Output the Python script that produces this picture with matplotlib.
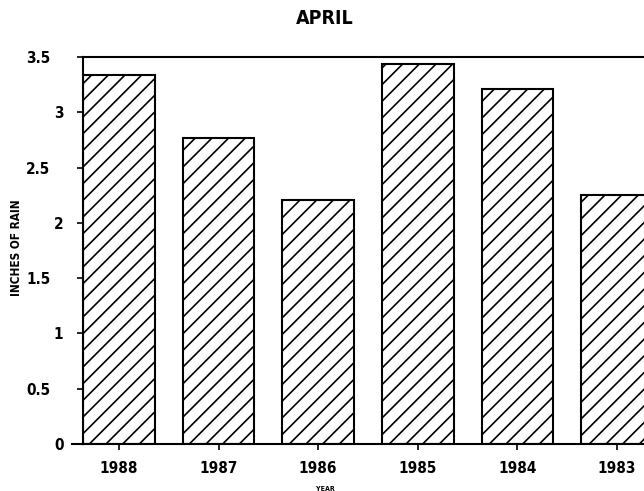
import matplotlib
matplotlib.use("Agg")
import matplotlib.pyplot as plt
from matplotlib.lines import Line2D
from matplotlib.transforms import ScaledTranslation

years = ["1988", "1987", "1986", "1985", "1984", "1983"]
rain = [3.34, 2.77, 2.21, 3.44, 3.21, 2.25]
yticks = [0, 0.5, 1, 1.5, 2, 2.5, 3, 3.5]
ytick_labels = ["0", "0.5", "1", "1.5", "2", "2.5", "3", "3.5"]

plt.rcParams['font.family'] = ['DejaVu Sans']
plt.rcParams['font.stretch'] = 'condensed'
plt.rcParams['hatch.linewidth'] = 1.2

fig = plt.figure(figsize=(6.44, 4.91), dpi=100)
ax = fig.add_axes([83/644, 47/491, 1 - 83/644, (444-57)/491])
x = list(range(len(years)))
ax.bar(x, rain, width=0.72, color='white', edgecolor='black', hatch='//', linewidth=1.5)
ax.set_xlim(-0.36, 5.27)
ax.set_ylim(0, 3.5)
ax.set_xticks(x)
ax.set_xticklabels(years, fontsize=11, fontweight='bold')
ax.set_yticks(yticks)
ax.set_yticklabels(ytick_labels, fontsize=11, fontweight='bold')
ax.tick_params(axis='both', direction='out', length=4, width=1.2)
ax.tick_params(axis='y', pad=10)
ax.tick_params(axis='x', pad=8)
for lab in ax.get_yticklabels():
    if '.' in lab.get_text():
        lab.set_transform(lab.get_transform() + ScaledTranslation(-13/100, 0, fig.dpi_scale_trans))
for s in ['left', 'bottom', 'top']:
    ax.spines[s].set_linewidth(1.5)
ax.spines['right'].set_visible(False)
ax.add_line(Line2D([-0.02, 0], [0, 0], transform=ax.transAxes, color='black', lw=1.5, clip_on=False))
fig.text(17/644, 1 - 248/491, "INCHES OF RAIN", rotation=90, ha='center', va='center',
         fontsize=8.5, fontweight='bold')
fig.text(325/644, 1 - 18/491, "APRIL", ha='center', va='center', fontsize=14, fontweight='bold')
fig.text(325/644, 1 - 489/491, "YEAR", ha='center', va='center', fontsize=5, fontweight='bold')
fig.savefig("out.png", dpi=100)
